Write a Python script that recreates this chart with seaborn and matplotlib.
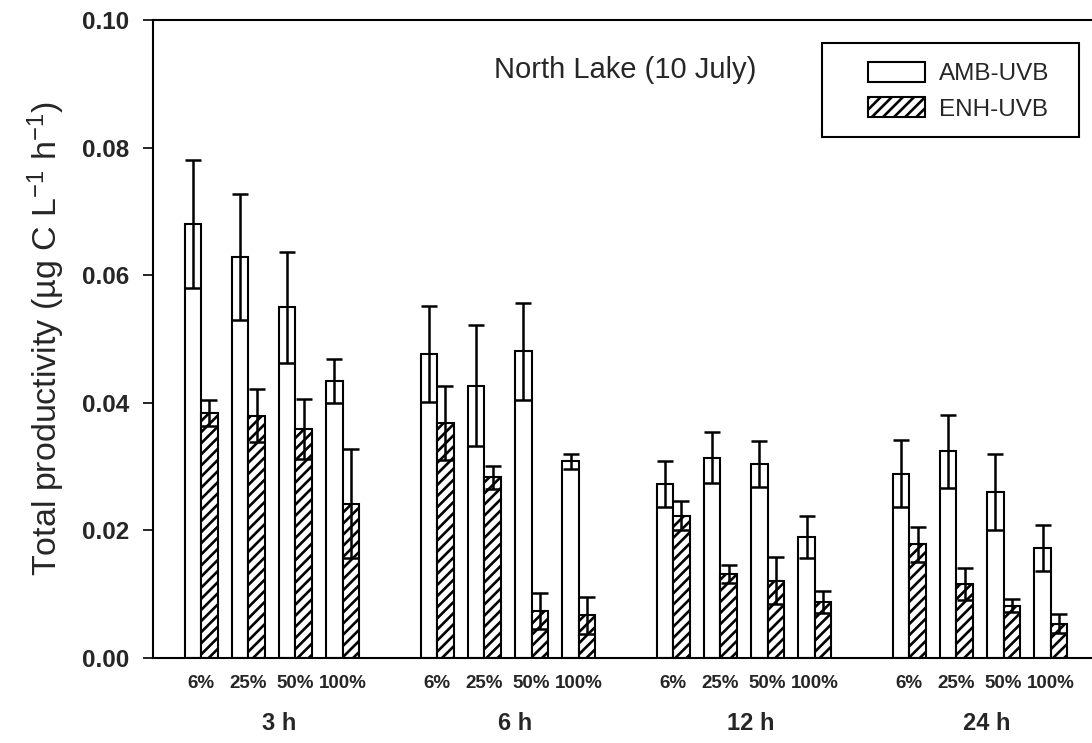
import numpy as np
import pandas as pd
import matplotlib
matplotlib.use("Agg")
import matplotlib.pyplot as plt
import matplotlib.transforms as mtransforms
from matplotlib.patches import Patch, Rectangle
import seaborn as sns

# ---- data -------------------------------------------------------------
durations = ["3 h", "6 h", "12 h", "24 h"]
light_levels = ["6%", "25%", "50%", "100%"]
treatments = ["AMB-UVB", "ENH-UVB"]

# means and errors, ordered duration-major then light level
amb_mean = [0.0680, 0.0629, 0.0550, 0.0434,
            0.0477, 0.0427, 0.0481, 0.0308,
            0.0272, 0.0314, 0.0304, 0.0190,
            0.0289, 0.0324, 0.0260, 0.0173]
amb_err = [0.0100, 0.0099, 0.0087, 0.0034,
           0.0075, 0.0095, 0.0076, 0.0011,
           0.0036, 0.0040, 0.0036, 0.0033,
           0.0052, 0.0057, 0.0060, 0.0036]
enh_mean = [0.0384, 0.0380, 0.0359, 0.0242,
            0.0369, 0.0283, 0.0074, 0.0067,
            0.0223, 0.0132, 0.0121, 0.0088,
            0.0178, 0.0116, 0.0082, 0.0054]
enh_err = [0.0020, 0.0042, 0.0047, 0.0086,
           0.0058, 0.0018, 0.0028, 0.0029,
           0.0023, 0.0014, 0.0037, 0.0017,
           0.0028, 0.0025, 0.0010, 0.0015]

# ---- styling ----------------------------------------------------------
sns.set_style("ticks")
plt.rcParams["font.family"] = ["Liberation Sans", "DejaVu Sans"]
plt.rcParams["mathtext.fontset"] = "custom"
plt.rcParams["mathtext.rm"] = "Liberation Sans"
plt.rcParams["mathtext.it"] = "Liberation Sans"
plt.rcParams["hatch.linewidth"] = 1.9
plt.rcParams["hatch.color"] = "black"

# one slot per bar pair, an empty slot between duration groups
slots_per_group = len(light_levels) + 1
slot = [g * slots_per_group + k
        for g in range(len(durations)) for k in range(len(light_levels))]

df = pd.DataFrame({
    "slot": slot * 2,
    "treatment": [treatments[0]] * len(slot) + [treatments[1]] * len(slot),
    "value": amb_mean + enh_mean,
})

fig = plt.figure(figsize=(10.92, 7.43), dpi=100)
ax = fig.add_axes([0.140, 0.1144, 0.860, 0.8587])

sns.barplot(data=df, x="slot", y="value", hue="treatment",
            hue_order=treatments, native_scale=True, width=0.7,
            palette=["white", "white"], edgecolor="black", linewidth=1.5,
            errorbar=None, legend=False, ax=ax, zorder=2)

# hatch the enhanced-UVB bars and add error bars from the bar geometry
for container, errs in zip(ax.containers, [amb_err, enh_err]):
    bars = sorted(container.patches, key=lambda p: p.get_x())
    for p in bars:
        if container is ax.containers[1]:
            p.set_hatch("///")
    xs = [p.get_x() + p.get_width() / 2 for p in bars]
    hs = [p.get_height() for p in bars]
    ax.errorbar(xs, hs, yerr=errs, fmt="none", ecolor="black",
                elinewidth=1.8, capsize=6, capthick=1.8, zorder=3)

# ---- axes -------------------------------------------------------------
ax.set_ylim(0, 0.10)
ax.set_xlim(-1.02, 18.87)
ax.set_yticks(np.arange(0, 0.101, 0.02))
ax.set_yticklabels([f"{v:.2f}" for v in np.arange(0, 0.101, 0.02)],
                   fontsize=17.5, fontweight="bold")
ax.tick_params(axis="y", direction="out", length=7, width=1.4, pad=10)

ax.set_xticks(slot)
ax.set_xticklabels(light_levels * len(durations), fontsize=13.5,
                   fontweight="bold")
ax.tick_params(axis="x", length=0, pad=12)
ax.set_xlabel("")

for side in ["left", "bottom", "top"]:
    ax.spines[side].set_linewidth(1.5)
    ax.spines[side].set_color("black")
ax.spines["right"].set_visible(False)

ax.set_ylabel("Total productivity (µg C L$^{-1}$ h$^{-1}$)", fontsize=24.5,
              va="center")
ax.yaxis.set_label_coords(-0.114, 0.5)

# duration group labels under the light-level labels
trans = mtransforms.blended_transform_factory(ax.transData, ax.transAxes)
for g, name in enumerate(durations):
    center = g * slots_per_group + (len(light_levels) - 1) / 2 + 0.15
    ax.text(center, -0.1034, name, transform=trans, ha="center", va="center",
            fontsize=17, fontweight="bold")

ax.text(0.503, 0.9216, "North Lake (10 July)", transform=ax.transAxes,
        ha="center", va="center", fontsize=21)

# legend with a plain rectangular frame
ax.add_patch(Rectangle((0.7125, 0.8166), 0.2735, 0.147,
                       transform=ax.transAxes, facecolor="white",
                       edgecolor="black", linewidth=1.5, zorder=4,
                       clip_on=False))
handles = [Patch(facecolor="white", edgecolor="black", linewidth=1.5),
           Patch(facecolor="white", edgecolor="black", linewidth=1.5,
                 hatch="///")]
leg = ax.legend(handles, treatments, loc="upper left",
                bbox_to_anchor=(0.7615, 0.9342), frameon=False, fontsize=17.5,
                borderpad=0, borderaxespad=0, handlelength=2.35,
                handleheight=0.87, handletextpad=0.55, labelspacing=0.5)
leg.set_zorder(5)

fig.savefig("out.png", dpi=100)
